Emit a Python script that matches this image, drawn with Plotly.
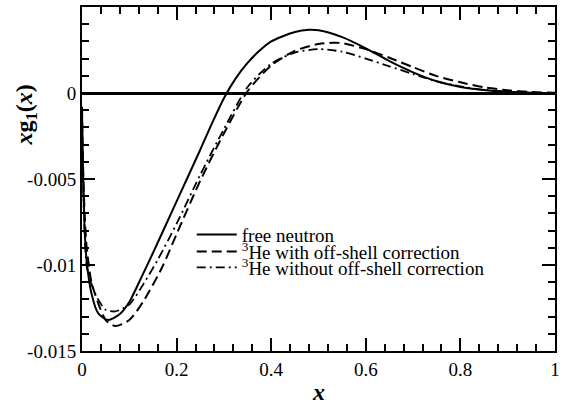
import plotly.graph_objects as go

# ---- data (y values in units of 1e-3) ----
x_free = [0, 0.001, 0.003, 0.006, 0.01, 0.02, 0.034, 0.055, 0.08, 0.1, 0.125, 0.15, 0.2, 0.25, 0.275, 0.3, 0.325, 0.35, 0.375, 0.4, 0.45, 0.48, 0.5, 0.55, 0.6, 0.65, 0.7, 0.75, 0.8, 0.85, 0.9, 0.95, 1.0]
y_free = [-1.0, -3.0, -5.6, -8.2, -9.8, -11.65, -12.8, -13.2, -12.85, -12.15, -10.75, -9.3, -6.3, -3.3, -1.75, -0.3, 0.85, 1.75, 2.45, 3.0, 3.55, 3.68, 3.65, 3.25, 2.6, 1.85, 1.2, 0.68, 0.35, 0.17, 0.07, 0.02, 0.0]

x_with = [0, 0.001, 0.003, 0.006, 0.01, 0.02, 0.034, 0.05, 0.07, 0.1, 0.13, 0.17, 0.2, 0.25, 0.3, 0.35, 0.4, 0.45, 0.5, 0.53, 0.55, 0.6, 0.65, 0.7, 0.75, 0.8, 0.85, 0.9, 0.95, 1.0]
y_with = [-0.8, -2.6, -5.0, -7.3, -9.0, -11.0, -12.2, -13.2, -13.55, -13.2, -12.1, -10.1, -8.2, -5.1, -2.35, 0.1, 1.6, 2.45, 2.85, 2.92, 2.9, 2.55, 2.05, 1.5, 0.98, 0.62, 0.33, 0.16, 0.06, 0.01]

x_without = [0, 0.001, 0.003, 0.006, 0.01, 0.02, 0.034, 0.05, 0.07, 0.1, 0.13, 0.16, 0.2, 0.25, 0.3, 0.35, 0.4, 0.45, 0.5, 0.55, 0.6, 0.65, 0.7, 0.75, 0.8, 0.85, 0.9, 0.95, 1.0]
y_without = [-1.0, -3.2, -5.8, -8.4, -10.1, -11.1, -12.0, -12.6, -12.7, -12.3, -11.1, -9.7, -7.6, -4.75, -2.1, 0.35, 1.7, 2.35, 2.55, 2.4, 2.0, 1.55, 1.1, 0.68, 0.38, 0.18, 0.07, 0.02, 0.0]

names = ["free neutron", "<sup>3</sup>He with off-shell correction", "<sup>3</sup>He without off-shell correction"]

x_ticks = [0, 0.2, 0.4, 0.6, 0.8, 1.0]
x_ticktext = ["0", "0.2", "0.4", "0.6", "0.8", "1"]
y_ticks = [-0.015, -0.01, -0.005, 0]
y_ticktext = ["-0.015", "-0.01", "-0.005", "0"]
y_ticks_all = [-0.015, -0.01, -0.005, 0, 0.005]
X_RANGE = [0, 1]
Y_RANGE = [-0.015, 0.005]

FONT = "Liberation Serif"

fig = go.Figure()
series = [
    (x_free, y_free, names[0], "solid", 2.0, "legend"),
    (x_with, y_with, names[1], "10px,5px", 2.0, "legend2"),
    (x_without, y_without, names[2], "9px,4px,2px,4px", 1.8, "legend3"),
]
for xs, ys, nm, dash, w, lg in series:
    fig.add_trace(go.Scatter(
        x=xs, y=[v * 1e-3 for v in ys], mode="lines", name=nm, legend=lg,
        line=dict(color="black", width=w, dash=dash, shape="spline", smoothing=0.7),
    ))

# empty trace so that the overlay axes (top / right ticks) get drawn
fig.add_trace(go.Scatter(x=[], y=[], xaxis="x2", yaxis="y2", showlegend=False, hoverinfo="skip"))

major = dict(ticks="inside", ticklen=13, tickwidth=2, tickcolor="black")
minor_x = dict(ticks="inside", ticklen=7, tickwidth=2, tickcolor="black", dtick=0.04, tick0=0, showgrid=False)
minor_y = dict(ticks="inside", ticklen=7, tickwidth=2, tickcolor="black", dtick=0.001, tick0=0, showgrid=False)

fig.update_layout(
    width=571, height=415,
    margin=dict(l=82, r=16, t=7, b=64),
    paper_bgcolor="white", plot_bgcolor="white",
    showlegend=True,
    xaxis=dict(
        range=X_RANGE, tickvals=x_ticks, ticktext=x_ticktext,
        showline=True, linecolor="black", linewidth=2,
        showgrid=False, zeroline=False,
        tickfont=dict(family=FONT, size=19, color="black"),
        minor=minor_x, **major,
    ),
    yaxis=dict(
        range=Y_RANGE, tickvals=y_ticks, ticktext=y_ticktext,
        showline=True, linecolor="black", linewidth=2,
        showgrid=False,
        zeroline=True, zerolinecolor="black", zerolinewidth=2.5,
        tickfont=dict(family=FONT, size=19, color="black"),
        minor=minor_y, **major,
    ),
    xaxis2=dict(overlaying="x", anchor="y2", side="top", range=X_RANGE, tickvals=x_ticks,
                showticklabels=False, showgrid=False, zeroline=False,
                showline=True, linecolor="black", linewidth=2,
                minor=minor_x, **major),
    yaxis2=dict(overlaying="y", anchor="x2", side="right", range=Y_RANGE, tickvals=y_ticks_all,
                showticklabels=False, showgrid=False, zeroline=False,
                showline=True, linecolor="black", linewidth=2,
                minor=minor_y, **major),
)

legend_style = dict(xanchor="left", yanchor="middle", bgcolor="rgba(0,0,0,0)", borderwidth=0,
                    font=dict(family=FONT, size=19, color="black"), itemwidth=40)
fig.update_layout(
    legend=dict(x=0.232, y=0.338, **legend_style),
    legend2=dict(x=0.232, y=0.289, **legend_style),
    legend3=dict(x=0.232, y=0.2425, **legend_style),
)

fig.add_annotation(
    text="<b><i>x</i>g<sub>1</sub>(<i>x</i>)</b>", xref="paper", yref="paper",
    x=-0.118, y=0.685, xanchor="center", yanchor="middle", textangle=-90, showarrow=False,
    font=dict(family=FONT, size=24, color="black"),
)
fig.add_annotation(
    text="<b><i>x</i></b>", xref="paper", yref="paper",
    x=0.5, y=-0.119, xanchor="center", yanchor="middle", showarrow=False,
    font=dict(family=FONT, size=24, color="black"),
)

fig.write_html("out.html")
